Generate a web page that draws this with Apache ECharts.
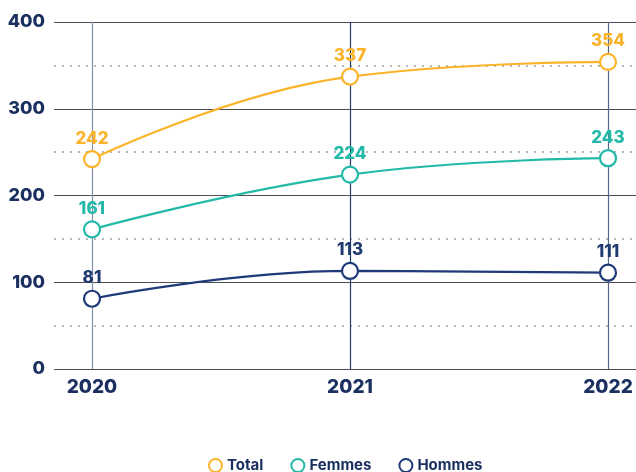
<!DOCTYPE html>
<html><head><meta charset="utf-8">
<script src="https://cdn.jsdelivr.net/npm/echarts@6/dist/echarts.min.js"></script>
<style>html,body{margin:0;padding:0;background:#fff}#c{width:636px;height:472px}</style>
</head><body><div id="c"></div>
<script>
const categories = ['2020', '2021', '2022'];
const totalValues = [242, 337, 354];
const femmesValues = [161, 224, 243];
const hommesValues = [81, 113, 111];
const seriesNames = ['Total', 'Femmes', 'Hommes'];
const colors = ['#fbb42a', '#22b9a9', '#1f3a78'];
const labelColors = ['#fbb42a', '#22b9a9', '#1f3a6e'];
const FONT = 'Inter';
const NAVY = '#1b3060';

const chart = echarts.init(document.getElementById('c'));
function mk(name, data, i) {
  return {
    name, type: 'line', data, xAxisIndex: 1, yAxisIndex: 1,
    smooth: 0.45, symbol: 'circle', symbolSize: 16, showAllSymbol: true,
    itemStyle: { color: '#fff', borderColor: colors[i], borderWidth: 2.2 },
    lineStyle: { color: colors[i], width: 2.2 },
    label: { show: true, position: 'top', distance: 3, color: labelColors[i], fontFamily: FONT, fontWeight: 800, fontSize: 17 },
    z: 5 - i
  };
}
chart.setOption({
  animation: false,
  grid: [
    { left: 54, right: 0, top: 22, bottom: 103 },
    { left: 92, right: 28, top: 22, bottom: 103 }
  ],
  legend: {
    top: 453, left: 203, itemGap: 27, itemWidth: 13, itemHeight: 13,
    icon: 'circle',
    data: seriesNames.map((n, i) => ({ name: n, itemStyle: { color: '#fff', borderColor: colors[i], borderWidth: 2 } })),
    textStyle: { color: NAVY, fontFamily: FONT, fontWeight: 700, fontSize: 15 }
  },
  xAxis: [
    { type: 'value', gridIndex: 0, show: false, min: 0, max: 1 },
    { type: 'category', gridIndex: 1, data: categories, boundaryGap: false,
      axisLine: { show: false }, axisTick: { show: false },
      axisLabel: { color: NAVY, fontFamily: FONT, fontWeight: 800, fontSize: 19, margin: 9 },
      splitLine: { show: true, lineStyle: { color: ['#8491ad', '#1f3a6e', '#56658a'], width: 1.2 } } }
  ],
  yAxis: [
    { type: 'value', gridIndex: 0, min: 0, max: 400, interval: 100,
      axisLine: { show: false }, axisTick: { show: false },
      axisLabel: { color: NAVY, fontFamily: FONT, fontWeight: 800, fontSize: 18, margin: 9 },
      splitLine: { show: true, lineStyle: { color: '#4d4d55', width: 1.2 } },
      minorTick: { show: false, splitNumber: 2 },
      minorSplitLine: { show: true, lineStyle: { color: '#a0a0a0', type: [2, 6], width: 1.6 } } },
    { type: 'value', gridIndex: 1, min: 0, max: 400, show: false, splitLine: { show: false } }
  ],
  series: [
    mk(seriesNames[0], totalValues, 0),
    mk(seriesNames[1], femmesValues, 1),
    mk(seriesNames[2], hommesValues, 2)
  ]
});
</script></body></html>
